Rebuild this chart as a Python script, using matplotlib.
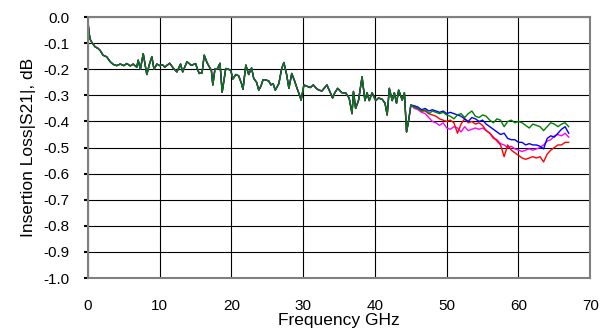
import numpy as np
import matplotlib
matplotlib.use("Agg")
import matplotlib.pyplot as plt

# ── data ──────────────────────────────────────────────────────────────────
# shared trace below ~45 GHz, where all four measurements overlap
freq_common = [
    0.0, 0.15, 0.3, 0.6, 1.0, 1.4, 1.7, 2.1, 2.6, 3.1, 3.5, 4.0, 4.5, 5.0,
    5.4, 5.9, 6.3, 6.8, 7.0, 7.3, 7.7, 8.2, 8.6, 8.9, 9.2, 9.6, 10.0, 10.4,
    10.7, 11.0, 11.4, 11.9, 12.4, 12.9, 13.2, 13.5, 13.8, 14.4, 15.0, 15.2,
    15.5, 15.9, 16.2, 16.6, 16.9, 17.2, 17.4, 17.7, 18.0, 18.4, 18.7, 19.2,
    19.6, 19.9, 20.2, 20.6, 21.0, 21.4, 21.6, 22.0, 22.4, 22.8, 23.1, 23.5,
    23.8, 24.1, 24.4, 24.7, 25.2, 25.5, 25.8, 26.1, 26.6, 27.0, 27.3, 27.7,
    28.0, 28.4, 28.8, 29.1, 29.5, 29.7, 30.1, 30.5, 31.0, 31.4, 31.9, 32.2,
    32.6, 33.0, 33.3, 33.7, 34.1, 34.4, 34.8, 35.4, 35.9, 36.4, 36.8, 37.0,
    37.3, 37.7, 38.2, 38.6, 38.9, 39.2, 39.6, 40.1, 40.5, 41.0, 41.4, 41.7,
    42.0, 42.4, 42.7, 43.0, 43.3, 43.8, 44.1, 44.4, 44.7, 45.0,
]
loss_common = [
    -0.02, -0.06, -0.085, -0.10, -0.114, -0.12, -0.128, -0.146, -0.152,
    -0.171, -0.181, -0.186, -0.18, -0.186, -0.178, -0.187, -0.18, -0.192,
    -0.165, -0.20, -0.14, -0.22, -0.177, -0.152, -0.20, -0.18, -0.186,
    -0.183, -0.192, -0.185, -0.177, -0.196, -0.21, -0.18, -0.21, -0.19,
    -0.171, -0.185, -0.178, -0.195, -0.216, -0.214, -0.146, -0.175, -0.19,
    -0.205, -0.26, -0.198, -0.20, -0.177, -0.288, -0.197, -0.20, -0.205,
    -0.237, -0.22, -0.225, -0.255, -0.277, -0.184, -0.22, -0.195, -0.235,
    -0.25, -0.28, -0.265, -0.24, -0.24, -0.245, -0.26, -0.255, -0.28,
    -0.255, -0.197, -0.174, -0.222, -0.273, -0.216, -0.245, -0.27, -0.30,
    -0.318, -0.26, -0.265, -0.27, -0.26, -0.275, -0.28, -0.283, -0.27,
    -0.26, -0.285, -0.31, -0.29, -0.273, -0.29, -0.29, -0.31, -0.37,
    -0.285, -0.35, -0.32, -0.229, -0.32, -0.29, -0.32, -0.29, -0.32,
    -0.31, -0.315, -0.33, -0.375, -0.273, -0.32, -0.29, -0.33, -0.28,
    -0.318, -0.29, -0.44, -0.395, -0.337,
]

# diverging part, 45.5 .. 67 GHz
freq_tail = [
    45.5, 46.0, 46.5, 47.0, 47.5, 48.0, 48.5, 49.0, 49.5, 50.0, 50.5, 51.0,
    51.5, 52.0, 52.5, 53.0, 53.5, 54.0, 54.5, 55.0, 55.5, 56.0, 56.5, 57.0,
    57.5, 58.0, 58.5, 59.0, 59.5, 60.0, 60.5, 61.0, 61.5, 62.0, 62.5, 63.0,
    63.5, 64.0, 64.5, 65.0, 65.5, 66.0, 66.5, 67.0,
]
tail_green = [
    -0.345, -0.35, -0.36, -0.355, -0.37, -0.36, -0.365, -0.37, -0.365,
    -0.375, -0.38, -0.39, -0.375, -0.37, -0.385, -0.37, -0.36, -0.38,
    -0.385, -0.375, -0.38, -0.395, -0.405, -0.39, -0.395, -0.42, -0.40,
    -0.395, -0.405, -0.40, -0.405, -0.415, -0.425, -0.41, -0.415, -0.42,
    -0.435, -0.42, -0.405, -0.41, -0.42, -0.41, -0.405, -0.42,
]
tail_blue = [
    -0.34, -0.345, -0.355, -0.35, -0.36, -0.355, -0.36, -0.365, -0.36,
    -0.37, -0.365, -0.37, -0.375, -0.38, -0.39, -0.40, -0.385, -0.39,
    -0.40, -0.395, -0.41, -0.42, -0.43, -0.44, -0.45, -0.445, -0.465,
    -0.47, -0.47, -0.48, -0.48, -0.49, -0.485, -0.49, -0.49, -0.495,
    -0.505, -0.465, -0.455, -0.46, -0.445, -0.43, -0.42, -0.445,
]
tail_magenta = [
    -0.35, -0.355, -0.365, -0.37, -0.385, -0.40, -0.405, -0.415, -0.405,
    -0.425, -0.43, -0.42, -0.425, -0.44, -0.42, -0.435, -0.43, -0.425,
    -0.43, -0.425, -0.435, -0.445, -0.465, -0.47, -0.485, -0.49, -0.50,
    -0.495, -0.505, -0.51, -0.515, -0.51, -0.505, -0.51, -0.505, -0.50,
    -0.49, -0.475, -0.47, -0.455, -0.45, -0.455, -0.445, -0.46,
]
tail_red = [
    -0.345, -0.35, -0.36, -0.36, -0.37, -0.375, -0.38, -0.39, -0.395,
    -0.40, -0.395, -0.405, -0.445, -0.41, -0.39, -0.405, -0.40, -0.41,
    -0.405, -0.415, -0.435, -0.445, -0.46, -0.475, -0.49, -0.535, -0.49,
    -0.51, -0.52, -0.53, -0.54, -0.545, -0.54, -0.535, -0.54, -0.535,
    -0.555, -0.525, -0.51, -0.50, -0.49, -0.49, -0.48, -0.48,
]

x_ticks = [0, 10, 20, 30, 40, 50, 60, 70]
y_ticks = [0.0, -0.1, -0.2, -0.3, -0.4, -0.5, -0.6, -0.7, -0.8, -0.9, -1.0]

# ── figure ────────────────────────────────────────────────────────────────
plt.rcParams["font.family"] = ["Liberation Sans", "DejaVu Sans"]
plt.rcParams["axes.unicode_minus"] = False

fig = plt.figure(figsize=(6.11, 3.29), dpi=100)
ax = fig.add_axes([0.144, 0.155, 0.822, 0.793])

freq = np.array(freq_common + freq_tail)
series = [
    (tail_magenta, "#ff00ff"),
    (tail_red, "#ff0000"),
    (tail_blue, "#0000ff"),
    (tail_green, "#007f00"),
]
for tail, color in series:
    ax.plot(freq, np.array(loss_common + tail), color=color, lw=1.0)

ax.set_xlim(0, 70)
ax.set_ylim(-1.0, 0.0)
ax.set_xticks(x_ticks)
ax.set_yticks(y_ticks)
ax.set_yticklabels([f"{v:.1f}" for v in y_ticks])

ax.grid(True, color="black", lw=0.8)
ax.set_axisbelow(True)
for spine in ax.spines.values():
    spine.set_edgecolor("#808080")
    spine.set_linewidth(1.5)

ax.tick_params(axis="x", length=0, pad=15, labelsize=11)
ax.tick_params(axis="y", length=3, width=1.5, color="black", pad=10.5,
               labelsize=11)

ax.set_xlabel("Frequency GHz", fontsize=12.5, labelpad=0)
ax.set_ylabel("Insertion Loss|S21|, dB", fontsize=12.5, labelpad=5)

fig.savefig("out.png", dpi=100)
